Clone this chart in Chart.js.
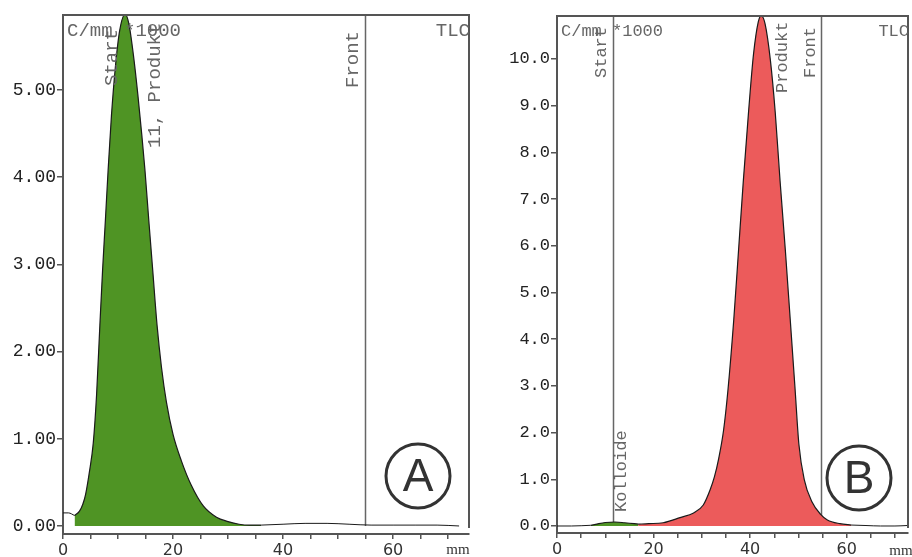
<!DOCTYPE html>
<html>
<head>
<meta charset="utf-8">
<script src="https://cdn.jsdelivr.net/npm/chart.js@4/dist/chart.umd.min.js"></script>
<style>
  body { margin: 0; background: #fff; }
  #wrap { position: relative; width: 912px; height: 557px; }
  canvas { position: absolute; top: 0; }
  #chartA { left: 0; }
  #chartB { left: 480px; }
</style>
</head>
<body>
<div id="wrap">
  <canvas id="chartA" width="480" height="557"></canvas>
  <canvas id="chartB" width="432" height="557"></canvas>
</div>
<script>
// scan A: position on the plate (mm) and activity (C/mm *1000)
const mmBaseA = [0, 1, 2.1];
const valBaseA = [0.15, 0.15, 0.12];
const mmPeakA = [2.1, 3.0, 3.6, 4.1, 4.8, 5.5, 6.1, 6.7, 7.2, 7.7, 8.2, 8.8, 9.5, 10.3, 11.3,
  12.0, 12.8, 13.6, 14.3, 14.9, 15.6, 16.3, 17.1, 17.9, 18.8, 20.0, 21.5, 23.3, 25.5, 27.9, 30.0, 32.0, 34.0, 36.0];
const valPeakA = [0.12, 0.17, 0.25, 0.36, 0.62, 0.95, 1.5, 2.3, 2.94, 3.5, 4.08, 4.7, 5.25, 5.68, 5.87,
  5.75, 5.4, 4.95, 4.5, 4.08, 3.5, 2.94, 2.3, 1.82, 1.42, 1.05, 0.75, 0.47, 0.23, 0.1, 0.05, 0.02, 0.01, 0.01];
const mmTailA = [36, 40, 44, 48, 52, 56, 60, 64, 68, 72];
const valTailA = [0.01, 0.02, 0.03, 0.03, 0.02, 0.01, 0.01, 0.01, 0.01, 0.0];

// scan B
const mmBaseB = [0, 3, 7];
const valBaseB = [0, 0, 0.015];
const mmKollB = [7, 8, 10, 12, 14, 16, 16.8];
const valKollB = [0.015, 0.035, 0.075, 0.085, 0.07, 0.05, 0.04];
const mmPeakB = [16.8, 19, 22, 25.5, 28.3, 30.3, 31.7, 32.6, 33.5, 34.5, 35.4, 36.6, 37.6, 38.6, 39.7, 40.7, 41.7, 42.3,
  43.1, 44.2, 45.2, 46.2, 47.3, 48.3, 49.3, 50.1, 51.2, 52.8, 54.6, 56.0, 58.6, 61.0];
const valPeakB = [0.04, 0.05, 0.07, 0.18, 0.28, 0.45, 0.77, 1.05, 1.45, 2.05, 2.9, 4.4, 5.9, 7.4, 8.9, 10.1, 10.8, 10.93,
  10.75, 9.97, 8.86, 7.39, 5.9, 4.43, 2.95, 1.75, 1.0, 0.52, 0.25, 0.13, 0.05, 0.02];
const mmTailB = [61, 64, 67, 70, 72.5];
const valTailB = [0.02, 0.01, 0.0, 0.0, 0.01];

// markers (mm)
const lineMmA = [54.9];
const labelTextA = ['Start', '11, Produkt', 'Front'];
const labelMmA = [8.9, 16.7, 52.7];
const lineMmB = [11.7, 54.7];
const labelTextB = ['Start', 'Produkt', 'Front', 'Kolloide'];
const labelMmB = [9.3, 46.8, 52.5, 13.4];

// axes
const xTicks = [0, 5, 10, 15, 20, 25, 30, 35, 40, 45, 50, 55, 60, 65, 70];
const xLabelTicks = [0, 20, 40, 60];
const yTicksA = [0, 1, 2, 3, 4, 5];
const yLabelsA = ['0.00', '1.00', '2.00', '3.00', '4.00', '5.00'];
const yTicksB = [0, 1, 2, 3, 4, 5, 6, 7, 8, 9, 10];
const yLabelsB = ['0.0', '1.0', '2.0', '3.0', '4.0', '5.0', '6.0', '7.0', '8.0', '9.0', '10.0'];

const GREEN = '#4f9424';
const RED = '#ec5b5b';

const pts = (xs, ys) => xs.map((v, i) => ({ x: v, y: ys[i] }));

function curve(xs, ys, fillColor) {
  return {
    data: pts(xs, ys),
    borderColor: '#1a1a1a',
    borderWidth: fillColor ? 1.2 : 1,
    backgroundColor: fillColor || 'transparent',
    fill: fillColor ? 'origin' : false,
    pointRadius: 0,
    tension: 0.4,
    cubicInterpolationMode: 'monotone'
  };
}

const tlcPlugin = {
  id: 'tlc',
  beforeDatasetsDraw(chart, args, o) {
    const { ctx, chartArea: a, scales: { x, y } } = chart;
    ctx.save();
    ctx.strokeStyle = '#666';
    ctx.lineWidth = 1.5;
    o.lines.forEach(mm => {
      const px = Math.round(x.getPixelForValue(mm)) + 0.5;
      ctx.beginPath();
      ctx.moveTo(px, a.top);
      ctx.lineTo(px, y.getPixelForValue(0));
      ctx.stroke();
    });
    ctx.restore();
  },
  afterDraw(chart, args, o) {
    const { ctx, chartArea: a, scales: { x, y } } = chart;
    ctx.save();
    // top + right frame
    ctx.strokeStyle = '#555';
    ctx.lineWidth = 2;
    ctx.beginPath();
    ctx.moveTo(a.left, a.top);
    ctx.lineTo(a.right, a.top);
    ctx.lineTo(a.right, y.getPixelForValue(0) + 2);
    ctx.stroke();

    ctx.fillStyle = '#666';
    ctx.font = o.fontSize + 'px "Liberation Mono"';
    ctx.textBaseline = 'middle';
    ctx.textAlign = 'left';
    ctx.fillText('C/mm *1000', a.left + 4, 31);
    ctx.textAlign = 'right';
    ctx.fillText('TLC', a.right + 1, 31);

    o.labels.forEach((t, i) => {
      ctx.save();
      ctx.translate(x.getPixelForValue(o.labelMm[i]), o.labelBottom[i]);
      ctx.rotate(-Math.PI / 2);
      ctx.textAlign = 'left';
      ctx.fillText(t, 0, 0);
      ctx.restore();
    });

    // circled panel letter
    ctx.strokeStyle = '#333';
    ctx.lineWidth = 3;
    ctx.beginPath();
    ctx.arc(o.circle[0], o.circle[1], 32, 0, Math.PI * 2);
    ctx.stroke();
    ctx.fillStyle = '#333';
    ctx.font = '46px "Liberation Sans"';
    ctx.textAlign = 'center';
    ctx.textBaseline = 'middle';
    ctx.fillText(o.letter, o.circle[0], o.circle[1] + 2);

    ctx.font = '15px "Liberation Serif"';
    ctx.fillStyle = '#333';
    ctx.fillText('mm', o.mmPos[0], o.mmPos[1]);
    ctx.restore();
  }
};

function makeChart(id, datasets, s) {
  return new Chart(document.getElementById(id), {
    type: 'line',
    data: { datasets },
    plugins: [tlcPlugin],
    options: {
      responsive: false,
      animation: false,
      devicePixelRatio: 1,
      layout: { padding: { top: s.padTop, right: s.padRight, left: 0, bottom: 0 } },
      plugins: {
        legend: { display: false },
        tooltip: { enabled: false },
        tlc: s.annot
      },
      scales: {
        x: {
          type: 'linear',
          min: 0,
          max: s.xMax,
          afterFit: sc => { sc.height = s.xHeight; },
          afterBuildTicks: sc => { sc.ticks = xTicks.map(v => ({ value: v })); },
          ticks: {
            autoSkip: false,
            maxRotation: 0,
            padding: 2,
            color: '#333',
            font: { family: 'DejaVu Sans', size: 16 },
            callback: v => (xLabelTicks.includes(v) ? String(v) : '')
          },
          grid: { drawOnChartArea: false, tickLength: 5, color: '#555', lineWidth: 1.5 },
          border: { color: '#555', width: 2 }
        },
        y: {
          type: 'linear',
          min: s.yMin,
          max: s.yMax,
          afterFit: sc => { sc.width = s.yWidth; },
          afterBuildTicks: sc => { sc.ticks = s.yTicks.map(v => ({ value: v })); },
          ticks: {
            padding: 1,
            color: '#222',
            font: { family: 'Liberation Mono', size: s.yFont },
            callback: v => s.yLabels[s.yTicks.indexOf(v)]
          },
          grid: { drawOnChartArea: false, tickLength: 6, color: '#555', lineWidth: 1.5 },
          border: { color: '#555', width: 2 }
        }
      }
    }
  });
}

makeChart('chartA', [
  curve(mmPeakA, valPeakA, GREEN),
  curve(mmBaseA, valBaseA),
  curve(mmTailA, valTailA)
], {
  padTop: 15, padRight: 11, xHeight: 23, yWidth: 63,
  xMax: 73.8, yMin: -0.092, yMax: 5.86,
  yTicks: yTicksA, yLabels: yLabelsA, yFont: 18,
  annot: {
    lines: lineMmA, labels: labelTextA, labelMm: labelMmA,
    labelBottom: [86, 148, 88], fontSize: 19,
    circle: [418, 476], letter: 'A', mmPos: [458, 550]
  }
});

makeChart('chartB', [
  curve(mmKollB, valKollB, GREEN),
  curve(mmPeakB, valPeakB, RED),
  curve(mmBaseB, valBaseB),
  curve(mmTailB, valTailB)
], {
  padTop: 16, padRight: 4, xHeight: 24, yWidth: 77,
  xMax: 72.7, yMin: -0.15, yMax: 10.92,
  yTicks: yTicksB, yLabels: yLabelsB, yFont: 17,
  annot: {
    lines: lineMmB, labels: labelTextB, labelMm: labelMmB,
    labelBottom: [78, 93, 78, 512], fontSize: 17,
    circle: [379, 478], letter: 'B', mmPos: [421, 551]
  }
});
</script>
</body>
</html>
